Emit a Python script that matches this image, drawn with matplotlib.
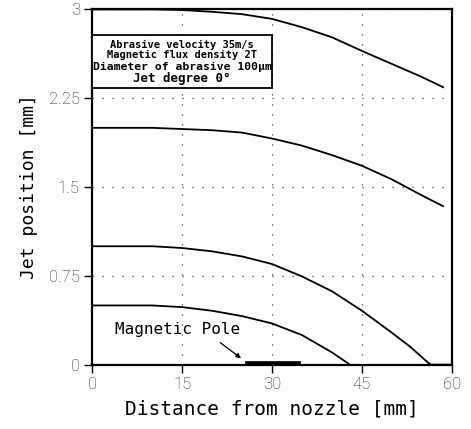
import matplotlib
matplotlib.use("Agg")
import matplotlib.pyplot as plt
from matplotlib.patches import Rectangle

# ---- data ----
x_c1 = [0, 10, 15, 20, 25, 30, 35, 40, 45, 50, 55, 58.7]
y_c1 = [3.0, 3.0, 2.995, 2.98, 2.96, 2.92, 2.85, 2.765, 2.65, 2.54, 2.43, 2.34]

x_c2 = [0, 10, 15, 20, 25, 30, 35, 40, 45, 50, 55, 58.7]
y_c2 = [2.0, 2.0, 1.99, 1.98, 1.96, 1.91, 1.85, 1.77, 1.68, 1.565, 1.43, 1.335]

x_c3 = [0, 10, 15, 20, 25, 30, 35, 40, 45, 50, 53, 55.9, 56.5, 60]
y_c3 = [1.0, 1.0, 0.985, 0.957, 0.914, 0.85, 0.745, 0.62, 0.456, 0.27, 0.154, 0.024, 0.0, 0.0]

x_c4 = [0, 10, 15, 20, 25, 30, 35, 40, 43]
y_c4 = [0.5, 0.5, 0.486, 0.455, 0.41, 0.348, 0.25, 0.104, 0.0]

pole_start, pole_end = 25.5, 34.7

x_ticks = [0, 15, 30, 45, 60]
y_ticks = [0, 0.75, 1.5, 2.25, 3]
y_tick_labels = ["0", "0.75", "1.5", "2.25", "3"]

info_lines = ["Abrasive velocity 35m/s",
              "Magnetic flux density 2T",
              "Diameter of abrasive 100\u03bcm",
              "Jet degree 0\u00b0"]

# ---- figure ----
fig = plt.figure(figsize=(4.71, 4.29), dpi=100)
ax = fig.add_axes([0.196, 0.150, 0.763, 0.828])

for xs, ys in [(x_c1, y_c1), (x_c2, y_c2), (x_c3, y_c3), (x_c4, y_c4)]:
    ax.plot(xs, ys, color="black", lw=1.3, solid_capstyle="butt")

# magnetic pole bar
ax.add_patch(Rectangle((pole_start, 0), pole_end - pole_start, 0.035,
                       facecolor="black", edgecolor="black", lw=0.5, zorder=5))

ax.annotate("", xy=(25.2, 0.04), xytext=(21.0, 0.2),
            arrowprops=dict(arrowstyle="-|>", color="black", lw=0.9,
                            mutation_scale=7))
ax.text(14.2, 0.30, "Magnetic Pole", ha="center", va="center",
        fontsize=11.5, family="DejaVu Sans Mono")

ax.set_xlim(0, 60)
ax.set_ylim(0, 3)
ax.set_xticks(x_ticks)
ax.set_yticks(y_ticks)
ax.set_yticklabels(y_tick_labels)
ax.tick_params(direction="out", length=6, width=1.0, labelsize=12,
               labelcolor="#222222", pad=3)
for lab in ax.get_xticklabels() + ax.get_yticklabels():
    lab.set_family("Roboto")
    lab.set_fontweight("light")

ax.grid(True, linestyle=(0, (1, 7)), color="#444444", lw=0.9)

for s in ax.spines.values():
    s.set_linewidth(1.6)

ax.set_xlabel("Distance from nozzle [mm]", fontsize=14,
              family="DejaVu Sans Mono", labelpad=5)
ax.set_ylabel("Jet position [mm]", fontsize=13,
              family="DejaVu Sans Mono", labelpad=8)

# info box
ax.add_patch(Rectangle((0, 2.34), 30, 0.445, facecolor="white",
                       edgecolor="black", lw=1.3, zorder=6))
box_y = [2.70, 2.617, 2.518, 2.415]
box_sizes = [7.5, 7.5, 8.2, 9.0]
for txt, yy, fs in zip(info_lines, box_y, box_sizes):
    ax.text(15, yy, txt, ha="center", va="center", fontsize=fs,
            family="DejaVu Sans Mono", fontweight="bold", zorder=7)

fig.savefig("out.png", dpi=100)
